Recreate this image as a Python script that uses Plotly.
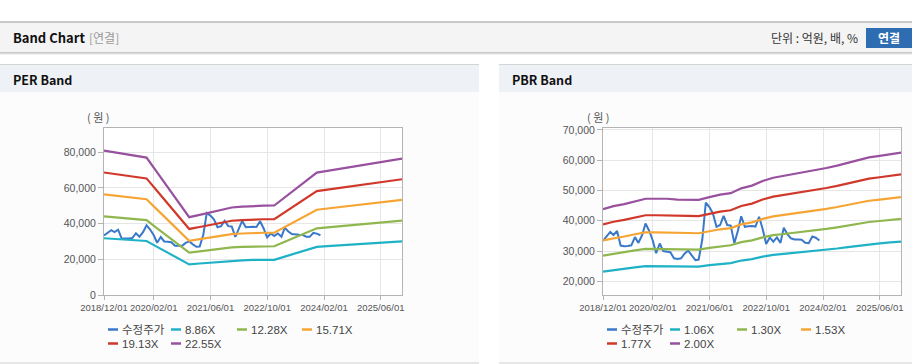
import plotly.graph_objects as go
import pandas as pd

W, H = 912, 364

# ---------------- data ----------------
price_dates = pd.date_range("2018-12-01", periods=62, freq="MS")
price = [33400, 34800, 36300, 35300, 36600, 31800, 31600, 31700, 31900, 34600,
         32700, 35200, 39100, 36700, 33500, 29300, 32500, 30000, 29800, 29600,
         27600, 27400, 27600, 29200, 30100, 28400, 27000, 27200, 33800, 46000,
         44500, 42400, 38000, 38600, 41600, 38600, 38400, 32600, 36800, 41500,
         38000, 38200, 38300, 38100, 41300, 37300, 32300, 34500, 33100, 34500,
         32700, 37700, 35600, 34200, 33800, 33800, 33700, 32700, 32600, 34800,
         34400, 33500]

band_dates = pd.date_range("2018-12-01", "2025-12-01", freq="3MS")

per_names = ["8.86X", "12.28X", "15.71X", "19.13X", "22.55X"]
per_886 = [31807, 31426, 31037, 30656, 30266, 26988, 23709, 20422, 17144, 17658,
           18172, 18721, 19271, 19448, 19634, 19669, 19705, 21521, 23337, 25145,
           26961, 27351, 27732, 28122, 28503, 28892, 29273, 29663, 30044]
per_1228 = [44085, 43557, 43017, 42489, 41948, 37405, 32861, 28305, 23762, 24474,
            25186, 25948, 26709, 26955, 27212, 27262, 27311, 29828, 32346, 34851,
            37368, 37908, 38436, 38977, 39505, 40045, 40573, 41113, 41641]
per_1571 = [56399, 55723, 55032, 54357, 53665, 47853, 42040, 36212, 30399, 31310,
            32221, 33195, 34169, 34483, 34813, 34876, 34939, 38160, 41380, 44585,
            47806, 48497, 49172, 49864, 50539, 51230, 51906, 52597, 53273]
per_1913 = [68677, 67854, 67012, 66190, 65348, 58270, 51192, 44095, 37017, 38126,
            39236, 40422, 41608, 41990, 42392, 42469, 42545, 46467, 50388, 54291,
            58213, 59054, 59877, 60719, 61541, 62383, 63206, 64047, 64870]
per_2255 = [80955, 79985, 78993, 78023, 77031, 68687, 60344, 51978, 43634, 44942,
            46250, 47648, 49046, 49497, 49971, 50061, 50151, 54774, 59397, 63997,
            68620, 69612, 70582, 71574, 72543, 73536, 74505, 75497, 76467]

pbr_names = ["1.06X", "1.30X", "1.53X", "1.77X", "2.00X"]
pbr_106 = [23241, 23760, 24115, 24634, 25043, 25043, 25043, 24910, 24910, 24857,
           25334, 25758, 26023, 26871, 27348, 28143, 28726, 29044, 29362, 29680,
           30051, 30422, 30846, 31323, 31747, 32277, 32542, 32860, 33125]
pbr_130 = [28503, 29140, 29575, 30212, 30713, 30713, 30713, 30550, 30550, 30485,
           31070, 31590, 31915, 32955, 33540, 34515, 35230, 35620, 36010, 36400,
           36855, 37310, 37830, 38415, 38935, 39585, 39910, 40300, 40625]
pbr_153 = [33545, 34295, 34808, 35557, 36146, 36146, 36146, 35955, 35955, 35879,
           36567, 37179, 37562, 38786, 39474, 40622, 41463, 41922, 42381, 42840,
           43376, 43911, 44523, 45212, 45824, 46589, 46971, 47430, 47813]
pbr_177 = [38807, 39675, 40268, 41135, 41816, 41816, 41816, 41595, 41595, 41507,
           42303, 43011, 43454, 44870, 45666, 46994, 47967, 48498, 49029, 49560,
           50180, 50799, 51507, 52304, 53012, 53897, 54339, 54870, 55313]
pbr_200 = [43850, 44830, 45500, 46480, 47250, 47250, 47250, 47000, 47000, 46900,
           47800, 48600, 49100, 50700, 51600, 53100, 54200, 54800, 55400, 56000,
           56700, 57400, 58200, 59100, 59900, 60900, 61400, 62000, 62500]

x_tick_vals = ["2018-12-01", "2020-02-01", "2021-06-01", "2022-10-01", "2024-02-01", "2025-06-01"]
x_tick_text = ["2018/12/01", "2020/02/01", "2021/06/01", "2022/10/01", "2024/02/01", "2025/06/01"]
per_y_ticks = [0, 20000, 40000, 60000, 80000]
pbr_y_ticks = [20000, 30000, 40000, 50000, 60000, 70000]

price_name = "수정주가"
colors = ["#1fb2c6", "#8fb74e", "#f6a535", "#d0382b", "#98509f"]
price_color = "#3a78c9"

# ---------------- helpers ----------------
def px(x):
    return x / W

def py(y):
    return 1 - y / H

FONT = "Liberation Sans, Noto Sans CJK KR, sans-serif"
KFONT = "Noto Sans CJK KR, Liberation Sans, sans-serif"

fig = go.Figure()

per_bands = [per_886, per_1228, per_1571, per_1913, per_2255]
pbr_bands = [pbr_106, pbr_130, pbr_153, pbr_177, pbr_200]

fig.add_trace(go.Scatter(x=price_dates, y=price, mode="lines", name=price_name,
                         line=dict(color=price_color, width=2), xaxis="x", yaxis="y"))
for nm, vals, c in zip(per_names, per_bands, colors):
    fig.add_trace(go.Scatter(x=band_dates, y=vals, mode="lines", name=nm,
                             line=dict(color=c, width=2.2), xaxis="x", yaxis="y"))

fig.add_trace(go.Scatter(x=price_dates, y=price, mode="lines", name=price_name,
                         line=dict(color=price_color, width=2), xaxis="x2", yaxis="y2"))
for nm, vals, c in zip(pbr_names, pbr_bands, colors):
    fig.add_trace(go.Scatter(x=band_dates, y=vals, mode="lines", name=nm,
                             line=dict(color=c, width=2.2), xaxis="x2", yaxis="y2"))

# ---------------- axes ----------------
ydom = [py(295), py(128)]
common_x = dict(type="date", range=["2018-12-01", "2025-12-01"], tickvals=x_tick_vals,
                ticktext=x_tick_text, showgrid=True, gridcolor="#e6e6e6", gridwidth=1,
                showline=True, linecolor="#b4b4b4", linewidth=1, mirror=True,
                ticks="outside", ticklen=4, tickcolor="#b4b4b4",
                tickfont=dict(family=FONT, size=9.5, color="#555"), automargin=False,
                zeroline=False, fixedrange=True)
common_y = dict(showgrid=True, gridcolor="#e6e6e6", gridwidth=1, showline=True,
                linecolor="#b4b4b4", linewidth=1, mirror=True, ticks="outside",
                ticklen=5, tickcolor="#b4b4b4", tickformat=",",
                tickfont=dict(family=FONT, size=10.5, color="#555"), automargin=False,
                zeroline=False, fixedrange=True)

fig.update_layout(
    width=W, height=H,
    margin=dict(l=0, r=0, t=0, b=0),
    paper_bgcolor="white", plot_bgcolor="white",
    showlegend=False,
    xaxis=dict(domain=[px(104), px(402)], anchor="y", **common_x),
    yaxis=dict(domain=ydom, anchor="x", range=[0, 93600], tickvals=per_y_ticks, **common_y),
    xaxis2=dict(domain=[px(603), px(901)], anchor="y2", **common_x),
    yaxis2=dict(domain=ydom, anchor="x2", range=[15500, 70600], tickvals=pbr_y_ticks, **common_y),
)

# ---------------- page decoration ----------------
shapes = []
def rect(x0, y0, x1, y1, fill, line=None):
    shapes.append(dict(type="rect", xref="paper", yref="paper", x0=px(x0), x1=px(x1),
                       y0=py(y1), y1=py(y0), fillcolor=fill, layer="below",
                       line=dict(width=0) if line is None else line))

def hline(x0, x1, y, color, w=1):
    shapes.append(dict(type="line", xref="paper", yref="paper", x0=px(x0), x1=px(x1),
                       y0=py(y), y1=py(y), line=dict(color=color, width=w), layer="below"))

# header bar
rect(0, 22, 912, 52, "#f4f4f4")
hline(0, 912, 22, "#b8b8b8", 1.5)
hline(0, 912, 52.5, "#c8c8c8", 1)
hline(0, 912, 53.5, "#dddddd", 1)
hline(0, 912, 54.5, "#eeeeee", 1)
# button
rect(866, 28, 912, 48, "#2f6db3")
# panels
for (a, b) in [(0, 479), (499, 912)]:
    rect(a, 64, b, 92, "#eef2f7")
    hline(a, b, 64.5, "#d4d4d4", 1)
    rect(a, 92, b, 363, "#fcfcfd")
    hline(a, b, 363, "#cfcfcf", 1.2)
# plot areas white
rect(104, 128, 402, 295, "white")
rect(603, 128, 901, 295, "white")

annotations = []
def text(x, y, s, size=12, color="#222", anchor="left", family=KFONT, bold=False):
    if bold:
        s = "<b>" + s + "</b>"
    annotations.append(dict(xref="paper", yref="paper", x=px(x), y=py(y), text=s,
                            showarrow=False, xanchor=anchor, yanchor="middle",
                            font=dict(size=size, color=color, family=family)))

text(11, 38, "Band Chart", 13, "#111", family=KFONT, bold=True)
text(87, 38, "[연결]", 12, "#999")
text(860, 38, "단위 : 억원, 배, %", 12, "#333", anchor="right")
text(889, 38, "연결", 12, "white", anchor="center", bold=True)
text(11, 79, "PER Band", 12.5, "#111", bold=True)
text(510, 79, "PBR Band", 12.5, "#111", bold=True)
text(98, 117, "( 원 )", 11, "#555", anchor="center")
text(598, 117, "( 원 )", 11, "#555", anchor="center")

# legends
leg_names_l = [price_name] + per_names
leg_names_r = [price_name] + pbr_names
leg_colors = [price_color] + colors
r1, r2 = 329.5, 343.5
left_slots = [(108, r1), (171, r1), (237, r1), (302, r1), (108, r2), (171, r2)]
right_slots = [(607, r1), (670, r1), (737, r1), (801, r1), (607, r2), (670, r2)]
for names, slots in [(leg_names_l, left_slots), (leg_names_r, right_slots)]:
    for nm, c, (lx, ly) in zip(names, leg_colors, slots):
        hline(lx, lx + 10, ly, c, 2.5)
        text(lx + 12, ly, nm, 11.5, "#444", family=FONT)

fig.update_layout(shapes=shapes, annotations=annotations)

fig.write_html(
    "out.html",
    config={"displayModeBar": False},
    post_script="document.body.style.margin='0';document.body.style.padding='0';"
                "document.documentElement.style.overflow='hidden';",
)
